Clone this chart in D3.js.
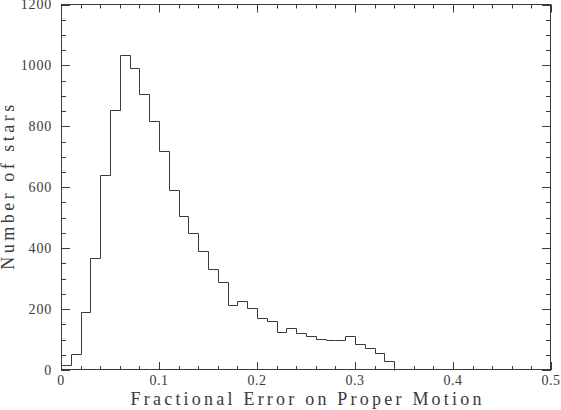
<!DOCTYPE html>
<html><head><meta charset="utf-8">
<script src="https://cdn.jsdelivr.net/npm/d3@7"></script>
<style>body{margin:0;background:#fff}svg{display:block}text{font-family:"Liberation Serif",serif;fill:#3a3a3a}</style>
</head><body>
<script>
const binStart = 0, binWidth = 0.01;
const counts = [16,51,189,369,641,855,1035,993,905,816,718,590,505,451,392,333,290,212,225,205,172,161,125,139,122,111,102,99,99,110,85,71,56,30];
const xTicks = [0,0.1,0.2,0.3,0.4,0.5];
const yTicks = [0,200,400,600,800,1000,1200];
const xLabel = "Fractional Error on Proper Motion";
const yLabel = "Number of stars";

const W=561,H=410, L=61, R=551, T=4.5, B=370;
const svg=d3.select("body").append("svg").attr("width",W).attr("height",H);
const x=d3.scaleLinear().domain([0,0.5]).range([L,R]);
const y=d3.scaleLinear().domain([0,1200]).range([B,T]);
const col="#3a3a3a";
const g=svg.append("g");
// frame
g.append("rect").attr("x",L+0.5).attr("y",T).attr("width",R-L-1).attr("height",B-T-0.5)
 .attr("fill","none").attr("stroke",col).attr("stroke-width",1);
const xMinor=d3.range(0,0.5001,0.02), yMinor=d3.range(0,1200.1,50);
const tk=g.append("g").attr("stroke",col).attr("stroke-width",1);
xMinor.forEach(v=>{
  const major=Math.abs(v*10-Math.round(v*10))<1e-6;
  const len=major?8:4, px=Math.round(x(v))+0.5;
  tk.append("line").attr("x1",px).attr("x2",px).attr("y1",B).attr("y2",B-len);
  tk.append("line").attr("x1",px).attr("x2",px).attr("y1",T).attr("y2",T+len);
});
yMinor.forEach(v=>{
  const major=Math.round(v)%200===0;
  const len=major?9:5, py=Math.round(y(v))+0.5;
  tk.append("line").attr("x1",L).attr("x2",L+len).attr("y1",py).attr("y2",py);
  tk.append("line").attr("x1",R).attr("x2",R-len).attr("y1",py).attr("y2",py);
});
// labels
xTicks.forEach(v=>{
  g.append("text").attr("x",x(v)).attr("y",385).attr("text-anchor","middle")
   .attr("font-size",14).attr("letter-spacing",0.5).text(v===0?"0":d3.format(".1f")(v));
});
yTicks.forEach(v=>{
  g.append("text").attr("x",52).attr("y",y(v)+4.8).attr("text-anchor","end")
   .attr("font-size",14).attr("letter-spacing",0.8).text(v);
});
g.append("text").attr("x",(L+R)/2).attr("y",405).attr("text-anchor","middle")
 .attr("font-size",18).attr("textLength",351).attr("lengthAdjust","spacing").text(xLabel);
g.append("text").attr("transform",`translate(13.5,${(T+B)/2}) rotate(-90)`).attr("text-anchor","middle")
 .attr("font-size",18).attr("textLength",165).attr("lengthAdjust","spacing").text(yLabel);
// histogram
const pts=[[binStart,0]];
counts.forEach((c,i)=>pts.push([binStart+i*binWidth,c]));
pts.push([binStart+counts.length*binWidth,0]);
const line=d3.line().x(d=>Math.round(x(d[0]))+0.5).y(d=>Math.round(y(d[1]))+0.5).curve(d3.curveStepAfter);
g.append("path").attr("d",line(pts)).attr("fill","none").attr("stroke",col).attr("stroke-width",1);
</script>
</body></html>
